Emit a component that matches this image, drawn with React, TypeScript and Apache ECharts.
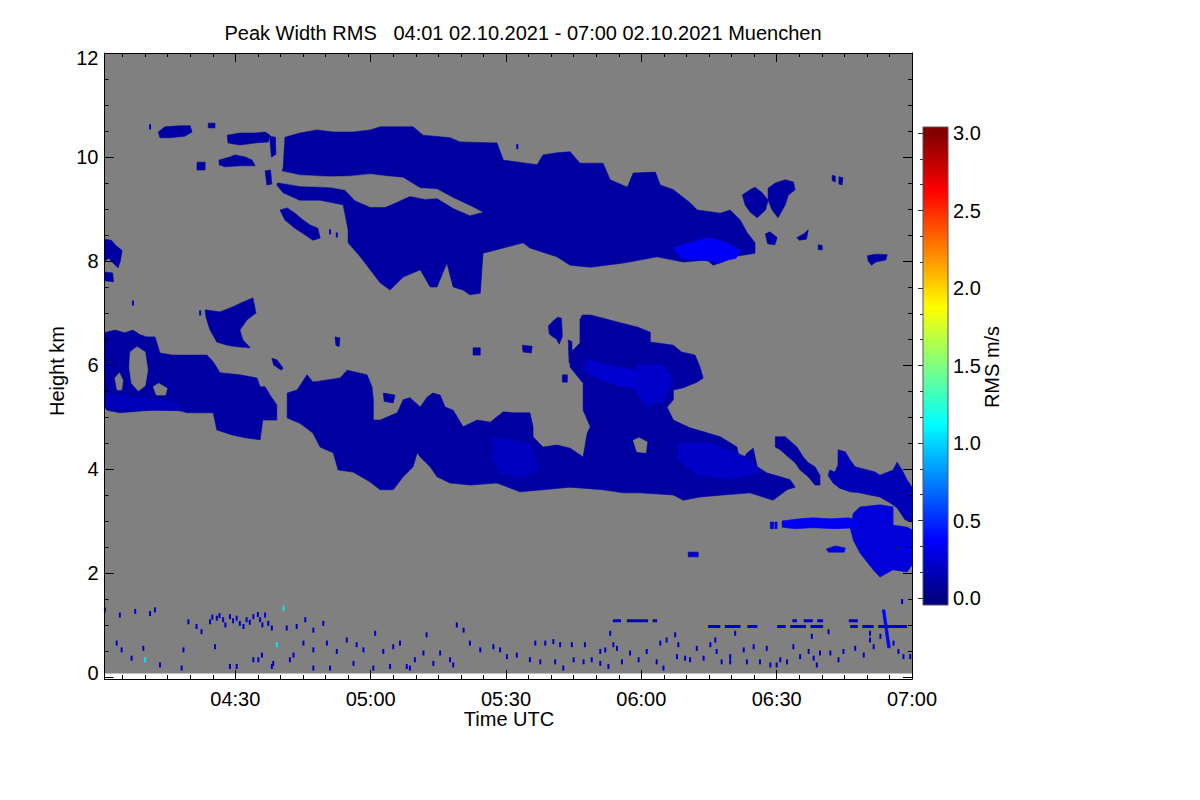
import React, { useEffect, useRef } from "react";
import * as echarts from "echarts";

// ---------------- texts ----------------
const chartTitle = "Peak Width RMS   04:01 02.10.2021 - 07:00 02.10.2021 Muenchen";
const xLabelText = "Time UTC";
const yLabelText = "Height km";
const colorbarLabelText = "RMS m/s";

// ---------------- axes (time in minutes after 04:00, height in km) ----------------
const timeStartMin = 1; // 04:01
const timeEndMin = 180; // 07:00
const heightMinKm = -0.04;
const heightMaxKm = 12;
const lowestGateKm = 0.067;

const timeMajorTicks = [30, 60, 90, 120, 150, 180];
const timeMinorTicks = [5, 10, 15, 20, 25, 35, 40, 45, 50, 55, 65, 70, 75, 80, 85, 95, 100, 105, 110, 115, 125, 130, 135, 140, 145, 155, 160, 165, 170, 175];
const heightMajorTicks = [0, 2, 4, 6, 8, 10, 12];
const heightMinorTicks = [0.5, 1, 1.5, 2.5, 3, 3.5, 4.5, 5, 5.5, 6.5, 7, 7.5, 8.5, 9, 9.5, 10.5, 11, 11.5];

const rmsMin = 0;
const rmsMax = 3;
const rmsStep = 0.5;

// jet colour scale (fraction of range, rgb)
const jetStops: [number, number[]][] = [
  [0, [0, 0, 128]],
  [0.125, [0, 0, 255]],
  [0.375, [0, 255, 255]],
  [0.625, [255, 255, 0]],
  [0.875, [255, 0, 0]],
  [1, [128, 0, 0]],
];

// ---------------- cloud outlines [minute after 04:00, km] ----------------
const upperCloud = [
  [41.0, 10.38], [44.3, 10.46], [48.1, 10.52], [51.7, 10.48], [56.1, 10.48], [59.9, 10.52], [62.1, 10.58], [69.4, 10.58],
  [71.6, 10.42], [77.6, 10.37], [79.8, 10.29], [88.0, 10.27], [89.4, 9.94], [96.9, 9.85], [98.2, 10.04], [101.3, 10.08],
  [104.2, 10.1], [106.4, 9.88], [111.5, 9.88], [113.1, 9.56], [116.9, 9.42], [118.2, 9.69], [123.1, 9.71], [124.2, 9.46],
  [127.1, 9.37], [130.8, 9.12], [132.4, 8.98], [137.5, 8.92], [139.7, 8.98], [141.9, 8.79], [143.5, 8.54], [145.2, 8.35],
  [145.2, 8.15], [140.4, 8.08], [138.1, 7.98], [135.9, 7.92], [134.6, 8.02], [129.3, 7.98], [123.5, 8.08], [119.7, 8.02],
  [116.0, 7.96], [108.7, 7.88], [104.2, 7.92], [101.3, 8.08], [95.3, 8.25], [93.8, 8.35], [89.4, 8.25], [84.9, 8.15],
  [84.3, 7.38], [82.0, 7.35], [80.5, 7.44], [78.3, 7.5], [76.9, 7.96], [74.7, 7.5], [73.2, 7.5], [71.0, 7.83],
  [67.2, 7.69], [64.3, 7.44], [62.1, 7.58], [59.9, 7.83], [57.7, 8.08], [55.0, 8.35], [55.0, 8.6], [53.9, 9.08],
  [48.8, 9.17], [44.3, 9.17], [40.6, 9.31], [39.2, 9.46], [40.6, 9.79],
];
const upperStreak = [
  [39.9, 8.98], [41.5, 9.02], [43.2, 8.92], [45.0, 8.79], [46.6, 8.69], [48.3, 8.63], [48.8, 8.44], [47.2, 8.4],
  [45.5, 8.5], [43.2, 8.63], [41.0, 8.79],
];
const leftCloud = [
  [1.0, 6.62], [3.3, 6.67], [5.5, 6.62], [7.3, 6.67], [8.9, 6.58], [10.4, 6.54], [12.2, 6.54], [13.3, 6.23],
  [16.0, 6.19], [23.7, 6.19], [25.1, 6.06], [26.6, 5.85], [31.0, 5.81], [34.8, 5.75], [35.5, 5.58], [36.6, 5.58],
  [37.7, 5.42], [39.2, 5.23], [39.2, 4.94], [36.1, 4.94], [35.5, 4.56], [32.2, 4.6], [29.5, 4.65], [25.9, 4.75],
  [25.1, 5.08], [19.3, 5.08], [14.9, 5.19], [11.1, 5.13], [4.4, 5.08], [1.6, 5.13], [1.0, 5.19],
];
const leftBlob = [
  [23.3, 7.06], [26.6, 7.02], [29.5, 7.12], [31.7, 7.21], [33.9, 7.29], [34.6, 7.0], [32.6, 6.87], [31.0, 6.67],
  [31.7, 6.48], [33.3, 6.33], [30.4, 6.35], [28.2, 6.38], [25.9, 6.44], [24.4, 6.67], [23.5, 6.92],
];
const middleCloud = [
  [41.5, 5.46], [43.7, 5.52], [45.9, 5.81], [47.2, 5.67], [50.3, 5.71], [53.2, 5.75], [54.8, 5.9], [59.2, 5.81],
  [60.3, 5.58], [60.6, 5.33], [60.6, 4.94], [62.1, 4.94], [65.9, 5.08], [67.2, 5.33], [68.7, 5.37], [71.0, 5.19],
  [72.5, 5.38], [73.8, 5.46], [75.4, 5.42], [76.5, 5.19], [78.3, 5.13], [80.5, 4.81], [83.6, 4.94], [86.5, 4.9],
  [89.4, 5.1], [91.6, 5.08], [95.3, 5.08], [96.0, 4.81], [96.0, 4.62], [98.2, 4.42], [101.3, 4.46], [104.2, 4.4],
  [107.1, 4.23], [108.0, 4.69], [108.7, 4.81], [107.1, 5.13], [107.1, 5.65], [104.2, 5.96], [104.2, 6.23], [106.4, 6.42],
  [106.4, 6.87], [106.9, 6.96], [108.7, 6.96], [111.5, 6.9], [115.3, 6.81], [119.1, 6.73], [122.0, 6.63], [122.0, 6.44],
  [127.1, 6.38], [128.9, 6.25], [131.9, 6.19], [133.0, 5.96], [133.7, 5.75], [132.4, 5.67], [129.3, 5.56], [127.1, 5.52],
  [127.1, 5.33], [125.7, 5.19], [127.1, 4.94], [129.3, 4.85], [130.8, 4.79], [137.5, 4.62], [141.2, 4.42], [141.9, 4.12],
  [143.5, 4.31], [144.8, 4.4], [145.7, 4.04], [147.9, 3.92], [150.8, 3.85], [153.0, 3.79], [154.1, 3.65], [152.3, 3.6],
  [149.2, 3.4], [144.1, 3.54], [138.1, 3.5], [133.0, 3.46], [129.3, 3.4], [127.1, 3.5], [119.7, 3.54], [116.0, 3.54],
  [111.5, 3.6], [104.2, 3.65], [98.2, 3.6], [93.1, 3.56], [88.0, 3.73], [82.0, 3.69], [77.6, 3.73], [74.7, 3.85],
  [73.2, 4.04], [71.0, 4.23], [70.3, 4.31], [69.4, 4.04], [67.2, 3.85], [65.0, 3.6], [62.1, 3.6], [59.9, 3.75],
  [56.1, 3.94], [52.8, 3.98], [51.7, 4.31], [48.8, 4.42], [47.2, 4.69], [44.3, 4.88], [41.5, 4.98],
];
const slantStreak = [
  [149.7, 4.62], [151.9, 4.62], [154.5, 4.42], [155.9, 4.23], [157.0, 4.12], [158.5, 4.04], [159.6, 3.88], [159.6, 3.69],
  [158.5, 3.69], [157.0, 3.85], [155.2, 3.98], [154.1, 4.12], [152.6, 4.23], [150.8, 4.37], [149.7, 4.42],
];
const rightCloud = [
  [163.6, 4.37], [165.2, 4.33], [166.3, 4.17], [167.4, 4.04], [170.1, 3.98], [171.8, 3.94], [172.9, 3.88], [175.8, 3.98],
  [176.7, 4.13], [177.8, 3.98], [178.9, 3.79], [180.0, 3.65], [180.0, 2.98], [178.5, 3.02], [176.7, 3.25], [175.1, 3.35],
  [172.9, 3.46], [170.6, 3.5], [168.4, 3.54], [166.3, 3.56], [164.0, 3.63], [162.5, 3.73], [161.4, 3.88], [161.8, 3.98],
  [162.9, 3.94], [163.6, 4.08],
];
const lowRightCloud = [
  [167.0, 3.15], [168.5, 3.27], [172.9, 3.31], [175.8, 3.27], [175.8, 2.92], [178.9, 2.88], [180.0, 2.83], [180.0, 2.15],
  [178.9, 2.02], [175.8, 2.06], [172.9, 1.92], [171.4, 2.06], [168.5, 2.38], [167.0, 2.63], [166.3, 2.87],
];
const thinLayer = [
  [151.2, 3.0], [155.0, 3.04], [158.0, 3.06], [162.0, 3.04], [166.0, 3.06], [167.9, 3.0], [167.9, 2.87], [163.0, 2.85],
  [158.0, 2.87], [154.0, 2.85], [151.2, 2.88],
];
const cirrusA = [[12.9, 10.48], [14.4, 10.58], [17.7, 10.6], [20.0, 10.6], [20.4, 10.48], [18.8, 10.4], [15.5, 10.37], [13.3, 10.37]];
const cirrusB = [[24.0, 10.56], [24.0, 10.65], [25.5, 10.65], [25.5, 10.56]];
const cirrusC = [[28.2, 10.42], [31.0, 10.46], [34.4, 10.46], [36.6, 10.48], [37.7, 10.42], [37.3, 10.29], [34.4, 10.27], [31.0, 10.23], [28.4, 10.27]];
const cirrusCDrip = [[37.6, 10.4], [38.9, 10.38], [39.0, 10.05], [38.0, 10.0]];
const cirrusD = [[26.4, 9.94], [28.8, 10.0], [29.9, 10.04], [32.2, 10.0], [33.7, 9.94], [34.4, 9.83], [31.0, 9.83], [27.7, 9.81], [26.4, 9.85]];
const cirrusE = [[21.5, 9.9], [23.3, 9.9], [23.3, 9.75], [21.5, 9.75]];
const cirrusF = [[36.6, 9.73], [37.8, 9.75], [38.1, 9.48], [37.0, 9.46]];
const edgeCloudA = [[1.0, 8.42], [2.5, 8.4], [3.5, 8.3], [4.9, 8.2], [4.5, 8.0], [4.0, 7.87], [3.0, 7.95], [2.0, 8.05], [1.0, 8.0]];
const edgeCloudB = [[1.0, 7.79], [2.8, 7.77], [3.0, 7.6], [1.0, 7.62]];
const upperRightA = [[142.4, 9.27], [144.1, 9.37], [145.2, 9.42], [146.8, 9.31], [148.1, 9.17], [147.5, 8.98], [145.7, 8.83], [144.1, 8.94], [143.0, 9.08]];
const upperRightB = [[148.1, 9.4], [149.7, 9.5], [151.9, 9.56], [153.7, 9.52], [154.1, 9.37], [152.6, 9.27], [151.9, 9.08], [150.3, 8.83], [149.0, 8.98], [148.1, 9.17]];
const upperRightC = [[147.5, 8.52], [148.5, 8.56], [150.1, 8.45], [149.6, 8.31], [148.0, 8.33]];
const upperRightD = [[154.5, 8.45], [156.0, 8.52], [157.0, 8.6], [156.6, 8.42], [155.0, 8.4]];
const upperRightE = [[159.2, 8.31], [160.1, 8.3], [160.1, 8.21], [159.2, 8.22]];
const upperRightF = [[162.3, 9.65], [163.0, 9.63], [163.0, 9.52], [162.3, 9.55]];
const upperRightG = [[163.8, 9.62], [164.7, 9.6], [164.5, 9.46], [163.8, 9.48]];
const upperRightH = [[170.1, 8.1], [172.0, 8.13], [174.5, 8.12], [174.2, 8.02], [172.0, 7.98], [171.0, 7.92], [170.3, 8.0]];
const bitA = [[52.1, 6.54], [53.2, 6.52], [53.0, 6.35], [52.3, 6.38]];
const bitB = [[38.1, 6.13], [39.2, 6.1], [40.6, 5.94], [40.2, 5.9], [38.5, 6.0]];
const bitC = [[82.7, 6.33], [84.3, 6.33], [84.3, 6.19], [82.7, 6.19]];
const bitD = [[93.6, 6.38], [95.8, 6.36], [95.6, 6.23], [93.8, 6.25]];
const bitE = [[102.5, 5.81], [103.6, 5.81], [103.6, 5.67], [102.5, 5.67]];
const bitF = [[62.8, 5.46], [65.4, 5.42], [65.0, 5.27], [63.0, 5.3]];
const bitG = [[130.4, 2.4], [132.6, 2.4], [132.6, 2.31], [130.4, 2.31]];
const streakNearTowerA = [[99.4, 6.75], [100.5, 6.85], [101.5, 6.92], [102.3, 6.9], [102.5, 6.55], [101.8, 6.4], [101.2, 6.5], [100.2, 6.55], [99.6, 6.6]];
const streakNearTowerB = [[103.8, 6.48], [104.6, 6.45], [104.7, 6.05], [104.0, 6.04]];
const lowStreak = [[161.0, 2.46], [163.0, 2.52], [165.2, 2.48], [165.0, 2.4], [161.5, 2.4]];
const thinLayerDotA = [[148.6, 2.98], [149.3, 2.98], [149.3, 2.85], [148.6, 2.85]];
const thinLayerDotB = [[149.6, 2.98], [150.1, 2.98], [150.1, 2.85], [149.6, 2.85]];
const fallStreak = [[173.4, 1.29], [174.0, 1.29], [175.2, 0.56], [174.6, 0.56]];

const cloudShapes = [
  upperCloud, upperStreak, leftCloud, leftBlob, middleCloud, slantStreak, rightCloud, lowRightCloud, thinLayer,
  cirrusA, cirrusB, cirrusC, cirrusCDrip, cirrusD, cirrusE, cirrusF, edgeCloudA, edgeCloudB,
  upperRightA, upperRightB, upperRightC, upperRightD, upperRightE, upperRightF, upperRightG, upperRightH,
  bitA, bitB, bitC, bitD, bitE, bitF, bitG, streakNearTowerA, streakNearTowerB, lowStreak, thinLayerDotA, thinLayerDotB, fallStreak,
];
const cloudRms = [
  0.1, 0.1, 0.1, 0.1, 0.1, 0.1, 0.16, 0.26, 0.34,
  0.1, 0.1, 0.1, 0.1, 0.1, 0.1, 0.1, 0.1, 0.1,
  0.1, 0.1, 0.1, 0.1, 0.1, 0.1, 0.1, 0.1,
  0.1, 0.1, 0.1, 0.1, 0.1, 0.1, 0.2, 0.1, 0.1, 0.28, 0.28, 0.28, 0.38,
];

// regions without signal inside the clouds
const upperGap = [
  [38.9, 9.75], [44.3, 9.65], [51.0, 9.62], [55.4, 9.63], [59.9, 9.67], [63.6, 9.63], [67.2, 9.6], [71.0, 9.4],
  [74.7, 9.38], [78.3, 9.21], [82.0, 9.06], [84.7, 8.94], [82.0, 8.88], [78.3, 9.02], [74.7, 9.21], [72.1, 9.19],
  [68.7, 9.25], [65.4, 9.12], [63.2, 9.04], [59.9, 9.04], [56.5, 9.17], [54.3, 9.37], [51.0, 9.42], [44.3, 9.44], [38.9, 9.52],
];
const ringHole = [[6.7, 6.25], [8.2, 6.35], [10.0, 6.25], [10.6, 5.9], [10.0, 5.6], [8.5, 5.5], [7.0, 5.65], [6.5, 5.95]];
const leftHoleA = [[3.3, 5.75], [4.3, 5.85], [5.1, 5.7], [4.8, 5.52], [3.8, 5.52]];
const leftHoleB = [[11.8, 5.58], [13.0, 5.65], [14.9, 5.55], [14.5, 5.42], [12.5, 5.42]];
const towerHole = [[118.2, 4.55], [119.5, 4.6], [121.3, 4.52], [121.0, 4.31], [119.0, 4.33]];
const gapShapes = [upperGap, ringHole, leftHoleA, leftHoleB, towerHole];

// brighter (higher RMS) patches
const upperBasePatch = [[127, 8.25], [131, 8.35], [135, 8.45], [139, 8.35], [142, 8.2], [141, 8.05], [137, 7.98], [133, 8.02], [129, 8.05]];
const towerPatch = [[108, 6.1], [115, 5.95], [122, 5.85], [125, 5.7], [122, 5.5], [115, 5.6], [110, 5.75], [107.5, 5.9]];
const towerRightPatch = [[119, 6.0], [125, 6.0], [127, 5.7], [125, 5.3], [121, 5.2], [119, 5.5]];
const lowerMidPatch = [[87, 4.6], [92, 4.55], [96, 4.45], [97, 4.0], [94, 3.85], [89, 3.9], [87, 4.2]];
const lowerRightPatch = [[128, 4.5], [135, 4.5], [140, 4.35], [144, 4.2], [146.5, 3.95], [140, 3.8], [132, 3.9], [128, 4.2]];
const leftBasePatch = [[1, 5.45], [6, 5.4], [12, 5.35], [18, 5.25], [18, 5.12], [10, 5.13], [1, 5.19]];
const patchShapes = [upperBasePatch, towerPatch, towerRightPatch, lowerMidPatch, lowerRightPatch, leftBasePatch];
const patchRms = [0.36, 0.24, 0.22, 0.19, 0.21, 0.17];

// range-gate dashes near 1 km [start, end, km]
const gateDashes = [
  [113.7, 115.5, 1.08], [116.8, 121.5, 1.08], [122.5, 123.5, 1.08], [134.8, 137.5, 0.97], [138.5, 142, 0.97],
  [143.5, 145.7, 0.97], [150.1, 152, 0.97], [153, 156.5, 0.97], [157.5, 160.3, 0.97], [166.3, 168, 0.97],
  [169, 171.5, 0.97], [172.5, 178.9, 0.97], [153.5, 154.5, 1.08], [156, 158, 1.08], [159, 160.3, 1.08], [166, 168, 1.08],
];

// isolated echoes [minute, km]
const lowSpecks = [
  [1.1, 1.29], [4.4, 1.19], [7.8, 1.26], [11.1, 1.22], [12.2, 1.29], [3.7, 0.65], [9.6, 0.55], [4.8, 0.52], [7.0, 0.36],
  [13.3, 0.23], [18.1, 0.17], [18.5, 0.52], [19.6, 1.06], [21.4, 0.97], [22.5, 0.87], [25.5, 0.58], [28.8, 0.2], [34.0, 0.33],
  [35.1, 0.33], [38.4, 0.26], [41.4, 0.94], [43.6, 0.97], [45.5, 1.1], [47.3, 0.9], [49.5, 1.03], [42.9, 0.42], [45.1, 0.65],
  [47.3, 0.52], [50.3, 0.65], [52.5, 0.49], [54.7, 0.71], [56.9, 0.62], [58.4, 0.52], [61.0, 0.84], [62.8, 0.49], [65.0, 0.58],
  [66.5, 0.65], [68.0, 0.2], [69.8, 0.33], [71.7, 0.46], [72.4, 0.81], [75.4, 0.46], [77.6, 0.33], [79.1, 1.0], [80.6, 0.9],
  [82.0, 0.65], [84.3, 0.52], [87.2, 0.58], [88.7, 0.52], [90.2, 0.39], [92.4, 0.42], [95.3, 0.33], [56.2, 0.26], [60.6, 0.17],
  [64.3, 0.2], [68.7, 0.17], [73.9, 0.26], [78.3, 0.23], [47.3, 0.17], [51.0, 0.17], [42.1, 0.33], [35.9, 0.42], [30.3, 0.2],
  [38.1, 0.2], [24.4, 1.06], [25.9, 1.13], [27.3, 1.1], [28.8, 1.16], [30.3, 1.13], [31.0, 1.03], [31.8, 0.97], [32.5, 1.1],
  [34.0, 1.16], [35.5, 1.1], [36.6, 1.19], [37.3, 1.03], [38.1, 0.94], [26.5, 1.18], [29.5, 1.08], [33.2, 1.05], [35.0, 1.2],
  [27.8, 1.0], [24.9, 1.15], [36.0, 1.0], [96.5, 0.65], [98.7, 0.65], [100.5, 0.68], [102.0, 0.62], [104.6, 0.62], [107.5, 0.62],
  [97.6, 0.29], [100.9, 0.29], [102.7, 0.17], [105.0, 0.33], [107.2, 0.29], [109.0, 0.33], [110.9, 0.49], [112.0, 0.52],
  [113.1, 0.84], [113.8, 0.62], [114.6, 0.55], [112.7, 0.2], [110.9, 0.26], [115.7, 0.29], [117.5, 0.46], [119.4, 0.33],
  [121.2, 0.49], [123.4, 0.29], [124.2, 0.65], [125.6, 0.71], [127.5, 0.81], [128.2, 0.62], [124.9, 0.17], [129.7, 0.36],
  [132.3, 0.55], [133.8, 0.36], [135.3, 0.62], [136.4, 0.71], [137.8, 0.29], [139.7, 0.39], [140.8, 0.84], [142.7, 0.52],
  [143.4, 0.29], [144.9, 0.58], [146.3, 0.29], [147.8, 0.55], [148.6, 0.23], [150.8, 0.33], [152.3, 0.29], [153.7, 0.58],
  [155.2, 0.39], [157.1, 0.49], [157.8, 0.78], [158.9, 0.23], [159.6, 0.46], [161.5, 0.87], [161.9, 0.46], [163.7, 0.33],
  [164.8, 0.49], [167.4, 0.55], [169.3, 0.42], [170.7, 0.84], [171.5, 0.58], [173.0, 0.78], [175.9, 0.65], [177.0, 0.49],
  [178.1, 0.39], [179.6, 0.39], [177.8, 1.45], [170.7, 0.71], [158.2, 0.36], [150.0, 0.23], [139.7, 0.29], [136.7, 0.49],
  [130.8, 0.33], [127.9, 0.39], [11.1, 10.58], [92.5, 10.2], [7.3, 7.19], [51.0, 8.56], [52.5, 8.5], [22.2, 7.0],
];
const cyanSpecks = [[39.2, 0.62], [40.7, 1.32], [10.0, 0.33]];
const speckRms = 0.2;
const cyanSpeckRms = 1.05;

// ---------------- styling ----------------
const FONT = '"Liberation Sans", Arial, Helvetica, sans-serif';
const FONT_SIZE = 20;
const NO_SIGNAL = "#808080";

function jetColor(v: number): string {
  const f = Math.max(0, Math.min(1, (v - rmsMin) / (rmsMax - rmsMin)));
  for (let i = 1; i < jetStops.length; i++) {
    const [o0, c0] = jetStops[i - 1];
    const [o1, c1] = jetStops[i];
    if (f <= o1) {
      const t = (f - o0) / (o1 - o0);
      return `rgb(${c0.map((c, k) => Math.round(c + (c1[k] - c) * t)).join(",")})`;
    }
  }
  return "rgb(128,0,0)";
}

function fmtTime(v: number): string {
  const total = 240 + v;
  const h = Math.floor(total / 60);
  const m = Math.round(total % 60);
  return `${String(h).padStart(2, "0")}:${String(m).padStart(2, "0")}`;
}

function fmtHeight(v: number): string {
  if (v === heightMaxKm) return `{down|${v}}`;
  if (v === 0) return `{up|${v}}`;
  return String(v);
}

function polygonSeries(shapes: number[][][], values: (number | null)[], fixedFill?: string) {
  return {
    type: "custom",
    coordinateSystem: "cartesian2d",
    xAxisIndex: 0,
    yAxisIndex: 0,
    silent: true,
    clip: false,
    data: shapes.map((_, i) => [i, values[i] == null ? 0 : values[i]]),
    renderItem: (_params: any, api: any) => {
      const idx = api.value(0);
      const pts = shapes[idx].map((p) => api.coord(p));
      const fill = fixedFill || jetColor(api.value(1));
      return { type: "polygon", shape: { points: pts }, style: { fill, stroke: fill, lineWidth: 0.6 } };
    },
  };
}

function speckSeries(points: number[][], rms: number) {
  return {
    type: "custom",
    coordinateSystem: "cartesian2d",
    xAxisIndex: 0,
    yAxisIndex: 0,
    silent: true,
    data: points,
    renderItem: (_params: any, api: any) => {
      const c = api.coord([api.value(0), api.value(1)]);
      return { type: "rect", shape: { x: c[0] - 1, y: c[1] - 2.5, width: 2, height: 5 }, style: { fill: jetColor(rms) } };
    },
  };
}

const lineStyle = { color: "#000", width: 1 };
const labelFont = { fontSize: FONT_SIZE, fontFamily: FONT, color: "#000" };

function frameAxis(grid: number, pos: string, min: number, max: number, ticks: number[], len: number, line: boolean, labels: any) {
  return {
    gridIndex: grid,
    type: "value",
    position: pos,
    min,
    max,
    z: 10,
    axisLine: { show: line, onZero: false, lineStyle },
    axisTick: { show: true, inside: true, length: len, customValues: ticks, lineStyle },
    minorTick: { show: false },
    splitLine: { show: false },
    axisLabel: labels ? { show: true, customValues: ticks, ...labelFont, ...labels } : { show: false },
  };
}

function textEl(text: string, x: number, y: number, rotation = 0) {
  return {
    type: "text",
    x,
    y,
    rotation,
    silent: true,
    style: {
      text,
      fontSize: FONT_SIZE,
      fontFamily: FONT,
      fill: "#000",
      align: "center",
      verticalAlign: "middle",
      textAlign: "center",
      textVerticalAlign: "middle",
    },
  };
}

export default function App() {
  const ref = useRef<HTMLDivElement>(null);
  useEffect(() => {
    if (!ref.current) return;
    const chart = echarts.init(ref.current, undefined, { renderer: "svg" });
    const option: any = {
      animation: false,
      backgroundColor: "#ffffff",
      grid: [
        { left: 104.5, top: 53, width: 807.5, height: 626 },
        { left: 923, top: 133, width: 25, height: 465 },
      ],
      xAxis: [
        frameAxis(0, "bottom", timeStartMin, timeEndMin, timeMajorTicks, 9, true, { margin: 10, formatter: fmtTime }),
        frameAxis(0, "bottom", timeStartMin, timeEndMin, timeMinorTicks, 4, false, null),
        frameAxis(0, "top", timeStartMin, timeEndMin, timeMajorTicks, 9, true, null),
        frameAxis(0, "top", timeStartMin, timeEndMin, timeMinorTicks, 4, false, null),
        { gridIndex: 1, type: "value", min: 0, max: 1, show: false },
      ],
      yAxis: [
        frameAxis(0, "left", heightMinKm, heightMaxKm, heightMajorTicks, 9, true, {
          margin: 6,
          formatter: fmtHeight,
          rich: {
            down: { ...labelFont, padding: [10, 0, 0, 0] },
            up: { ...labelFont, padding: [0, 0, 8, 0] },
          },
        }),
        frameAxis(0, "left", heightMinKm, heightMaxKm, heightMinorTicks, 4, false, null),
        frameAxis(0, "right", heightMinKm, heightMaxKm, heightMajorTicks, 9, true, null),
        frameAxis(0, "right", heightMinKm, heightMaxKm, heightMinorTicks, 4, false, null),
        {
          gridIndex: 1,
          type: "value",
          position: "right",
          min: rmsMin,
          max: rmsMax,
          interval: rmsStep,
          z: 10,
          axisLine: { show: false },
          axisTick: { show: true, inside: true, length: 5, lineStyle: { color: "#333" } },
          minorTick: { show: true, splitNumber: 3, length: 3, lineStyle: { color: "#333" } },
          splitLine: { show: false },
          axisLabel: { margin: 5, formatter: (v: number) => v.toFixed(1), ...labelFont },
        },
      ],
      graphic: [
        textEl(chartTitle, 523, 33),
        textEl(xLabelText, 509, 719),
        textEl(yLabelText, 57, 371, Math.PI / 2),
        textEl(colorbarLabelText, 992, 367, Math.PI / 2),
      ],
      series: [
        {
          type: "custom",
          coordinateSystem: "cartesian2d",
          xAxisIndex: 0,
          yAxisIndex: 0,
          silent: true,
          data: [[timeStartMin, timeEndMin, lowestGateKm, heightMaxKm]],
          renderItem: (_p: any, api: any) => {
            const a = api.coord([api.value(0), api.value(3)]);
            const b = api.coord([api.value(1), api.value(2)]);
            return { type: "rect", shape: { x: a[0], y: a[1], width: b[0] - a[0], height: b[1] - a[1] }, style: { fill: NO_SIGNAL } };
          },
        },
        polygonSeries(cloudShapes, cloudRms),
        polygonSeries(gapShapes, gapShapes.map(() => null), NO_SIGNAL),
        polygonSeries(patchShapes, patchRms),
        {
          type: "custom",
          coordinateSystem: "cartesian2d",
          xAxisIndex: 0,
          yAxisIndex: 0,
          silent: true,
          data: gateDashes,
          renderItem: (_p: any, api: any) => {
            const a = api.coord([api.value(0), api.value(2)]);
            const b = api.coord([api.value(1), api.value(2)]);
            return { type: "rect", shape: { x: a[0], y: a[1] - 1.5, width: b[0] - a[0], height: 3 }, style: { fill: jetColor(speckRms) } };
          },
        },
        speckSeries(lowSpecks, speckRms),
        speckSeries(cyanSpecks, cyanSpeckRms),
        {
          type: "custom",
          coordinateSystem: "cartesian2d",
          xAxisIndex: 4,
          yAxisIndex: 4,
          silent: true,
          clip: false,
          data: [[0, rmsMin, rmsMax]],
          renderItem: (params: any, api: any) => {
            const cs = params.coordSys;
            const yb = api.coord([0, api.value(1)])[1];
            const yt = api.coord([0, api.value(2)])[1];
            const top = yt - 6;
            const bottom = yb + 7;
            const stops = jetStops.map(([o, c]) => ({
              offset: (bottom - (yb + (yt - yb) * o)) / (bottom - top),
              color: `rgb(${c.join(",")})`,
            }));
            return {
              type: "rect",
              shape: { x: cs.x, y: top, width: cs.width, height: bottom - top },
              style: { fill: new echarts.graphic.LinearGradient(0, 1, 0, 0, stops), stroke: "#555", lineWidth: 1 },
            };
          },
        },
      ],
    };
    chart.setOption(option);
    return () => chart.dispose();
  }, []);
  return <div ref={ref} style={{ position: "absolute", left: 0, top: 0, width: 1200, height: 800, background: "#fff" }} />;
}
